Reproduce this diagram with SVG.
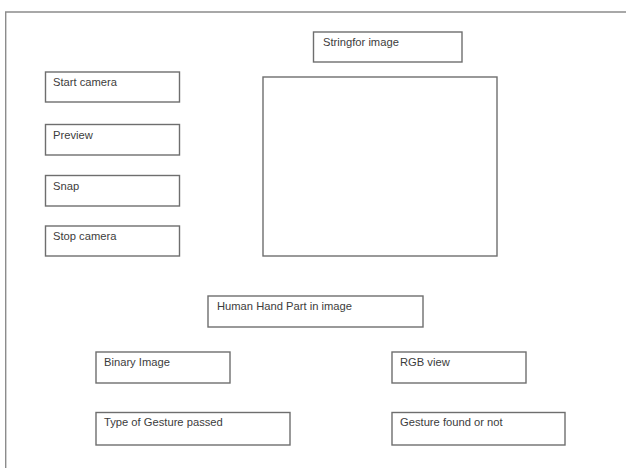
<svg xmlns="http://www.w3.org/2000/svg" width="626" height="468" viewBox="0 0 626 468">
<style>
.box{fill:#fff;stroke:#6e6e6e;stroke-width:1.4}
.frame{fill:none;stroke:#8c8c8c;stroke-width:1.4}
.t{font-family:"Liberation Sans",Arial,sans-serif;font-size:11.2px;fill:#3c3c3c}
</style>
<rect width="626" height="468" fill="#fff"/>
<g id="frame"><path class="frame" d="M5.7,468 V12 H626"/></g>
<g id="string-for-image"><rect class="box" x="313.5" y="32" width="148.5" height="30"/><text class="t" x="323" y="45.5">Stringfor image</text></g>
<g id="image-area"><rect class="box" x="263" y="77" width="234" height="179"/></g>
<g id="start-camera"><rect class="box" x="45.5" y="72" width="134" height="30"/><text class="t" x="53" y="86">Start camera</text></g>
<g id="preview"><rect class="box" x="45.5" y="124.5" width="134" height="30.5"/><text class="t" x="53" y="138.5">Preview</text></g>
<g id="snap"><rect class="box" x="45.5" y="175.5" width="134" height="30.5"/><text class="t" x="53" y="189.5">Snap</text></g>
<g id="stop-camera"><rect class="box" x="45.5" y="226" width="134" height="30"/><text class="t" x="53" y="240">Stop camera</text></g>
<g id="human-hand"><rect class="box" x="208" y="296" width="215" height="31"/><text class="t" x="217" y="310">Human Hand Part in image</text></g>
<g id="binary-image"><rect class="box" x="96" y="352" width="134" height="31"/><text class="t" x="104" y="366">Binary Image</text></g>
<g id="rgb-view"><rect class="box" x="392" y="352" width="134" height="31"/><text class="t" x="400" y="366">RGB view</text></g>
<g id="type-of-gesture"><rect class="box" x="96" y="412.5" width="194" height="32.5"/><text class="t" x="104" y="426">Type of Gesture passed</text></g>
<g id="gesture-found"><rect class="box" x="392" y="412.5" width="173" height="32.5"/><text class="t" x="400" y="426">Gesture found or not</text></g>
<g id="connectors"></g>
</svg>
